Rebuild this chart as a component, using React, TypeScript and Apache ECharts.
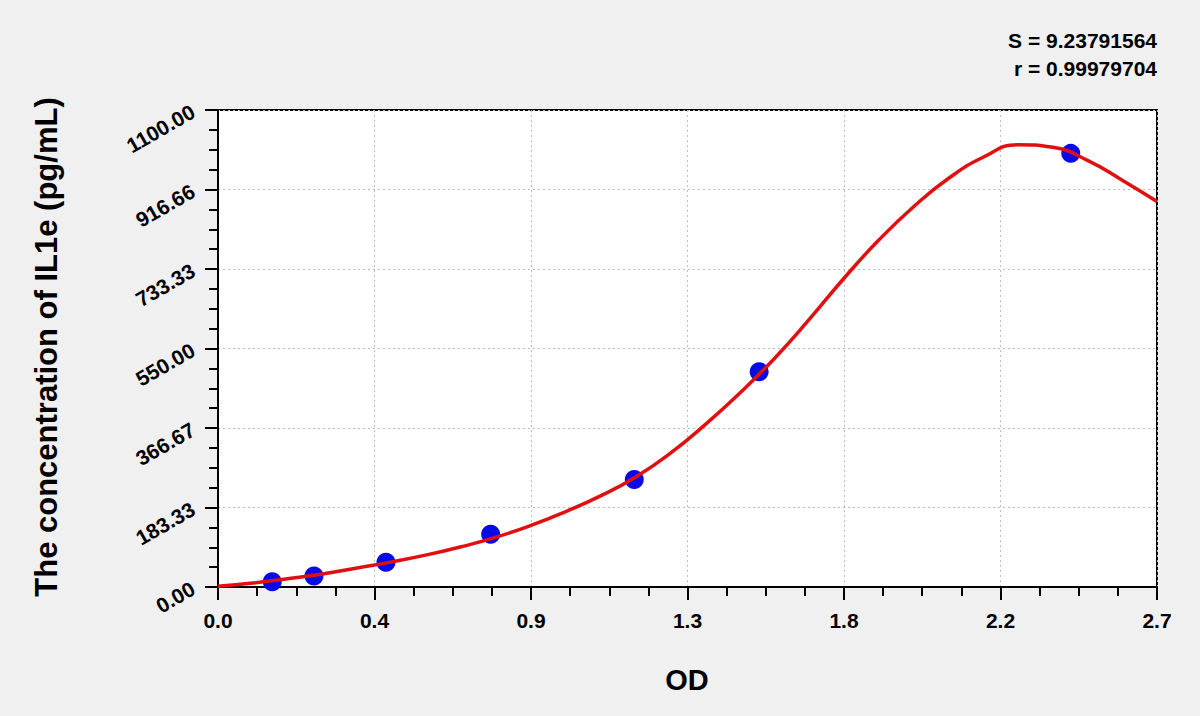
import React, { useEffect, useRef } from "react";
import * as echarts from "echarts";

// Fitted standard curve (OD, pg/mL)
const curveX = [0, 0.1, 0.2, 0.3, 0.4, 0.5, 0.6, 0.7, 0.8, 0.9, 1.0, 1.1, 1.2, 1.3, 1.4, 1.5, 1.6, 1.7, 1.8, 1.9, 2.0, 2.1, 2.2, 2.3, 2.4, 2.5, 2.6, 2.7];
const curveY = [2, 9, 19, 30, 44, 58, 74, 93, 115, 142, 174, 210, 253, 308, 374, 447, 527, 617, 712, 800, 877, 942, 991, 1020, 1014, 984, 938, 889];

// Standard points
const pointX = [0.156, 0.276, 0.483, 0.784, 1.197, 1.556, 2.452];
const pointY = [12.3, 25.4, 57, 121.5, 248, 496.6, 1000];

// Axis ticks
const xMax = 2.7;
const xStep = 0.45;
const yMax = 1100;
const yStep = 1100 / 6;
const xTickLabels = ["0.0", "0.4", "0.9", "1.3", "1.8", "2.2", "2.7"];
const yTickLabels = ["0.00", "183.33", "366.67", "550.00", "733.33", "916.66", "1100.00"];

const xTitle = "OD";
const yTitle = "The concentration of IL1e (pg/mL)";
const statLines = ["S = 9.23791564", "r = 0.99979704"];

const FONT = "'Liberation Sans', Arial, sans-serif";

export default function App() {
  const ref = useRef<HTMLDivElement>(null);

  useEffect(() => {
    if (!ref.current) return;
    const chart = echarts.init(ref.current, undefined, { renderer: "svg" });

    const curveData = curveX.map((x, i) => [x, curveY[i]]);
    const pointData = pointX.map((x, i) => [x, pointY[i]]);

    chart.setOption({
      animation: false,
      backgroundColor: "#f0f0f0",
      grid: {
        left: 218,
        right: 43,
        top: 110,
        bottom: 129,
        show: true,
        backgroundColor: "#ffffff",
        borderColor: "#000000",
        borderWidth: 2,
        containLabel: false,
        outerBoundsMode: "none",
      },
      xAxis: {
        type: "value",
        min: 0,
        max: xMax,
        interval: xStep,
        axisLine: { show: true, onZero: false, lineStyle: { color: "#000", width: 2 } },
        axisTick: { show: true, inside: false, length: 13, lineStyle: { color: "#000", width: 2 } },
        minorTick: { show: true, splitNumber: 4, length: 9, lineStyle: { color: "#000", width: 2 } },
        splitLine: { show: true, lineStyle: { color: "#bdbdbd", width: 1, type: [2, 3] } },
        axisLabel: {
          margin: 23,
          color: "#000",
          fontSize: 21,
          fontWeight: "bold",
          fontFamily: FONT,
          formatter: (v: number) => xTickLabels[Math.round(v / xStep)] ?? "",
        },
      },
      yAxis: {
        type: "value",
        min: 0,
        max: yMax,
        interval: yStep,
        axisLine: { show: true, onZero: false, lineStyle: { color: "#000", width: 2 } },
        axisTick: { show: true, inside: false, length: 13, lineStyle: { color: "#000", width: 2 } },
        minorTick: { show: true, splitNumber: 4, length: 9, lineStyle: { color: "#000", width: 2 } },
        splitLine: { show: true, lineStyle: { color: "#bdbdbd", width: 1, type: [2, 3] } },
        axisLabel: {
          margin: 25,
          rotate: 30,
          color: "#000",
          fontSize: 21,
          fontWeight: "bold",
          fontFamily: FONT,
          formatter: (v: number) => yTickLabels[Math.round(v / yStep)] ?? "",
        },
      },
      series: [
        {
          type: "scatter",
          data: pointData,
          symbol: "circle",
          symbolSize: 19,
          itemStyle: { color: "#0a0ae8", opacity: 1 },
          z: 2,
        },
        {
          type: "line",
          data: curveData,
          smooth: 0.5,
          showSymbol: false,
          symbol: "none",
          lineStyle: { color: "#e01010", width: 3.5 },
          z: 3,
        },
      ],
      graphic: [
        {
          type: "text",
          x: 1157,
          y: 40,
          style: {
            text: statLines[0],
            fill: "#000",
            font: `bold 21px ${FONT}`,
            align: "right",
            verticalAlign: "middle",
          },
        },
        {
          type: "text",
          x: 1157,
          y: 68,
          style: {
            text: statLines[1],
            fill: "#000",
            font: `bold 21px ${FONT}`,
            align: "right",
            verticalAlign: "middle",
          },
        },
        {
          type: "text",
          x: 687,
          y: 680,
          style: {
            text: xTitle,
            fill: "#000",
            font: `bold 29px ${FONT}`,
            align: "center",
            verticalAlign: "middle",
          },
        },
        {
          type: "text",
          x: 46,
          y: 347,
          rotation: Math.PI / 2,
          style: {
            text: yTitle,
            fill: "#000",
            font: `bold 31px ${FONT}`,
            align: "center",
            verticalAlign: "middle",
          },
        },
      ],
    });

    return () => {
      chart.dispose();
    };
  }, []);

  return (
    <div
      ref={ref}
      style={{ position: "fixed", left: 0, top: 0, width: 1200, height: 716 }}
    />
  );
}
